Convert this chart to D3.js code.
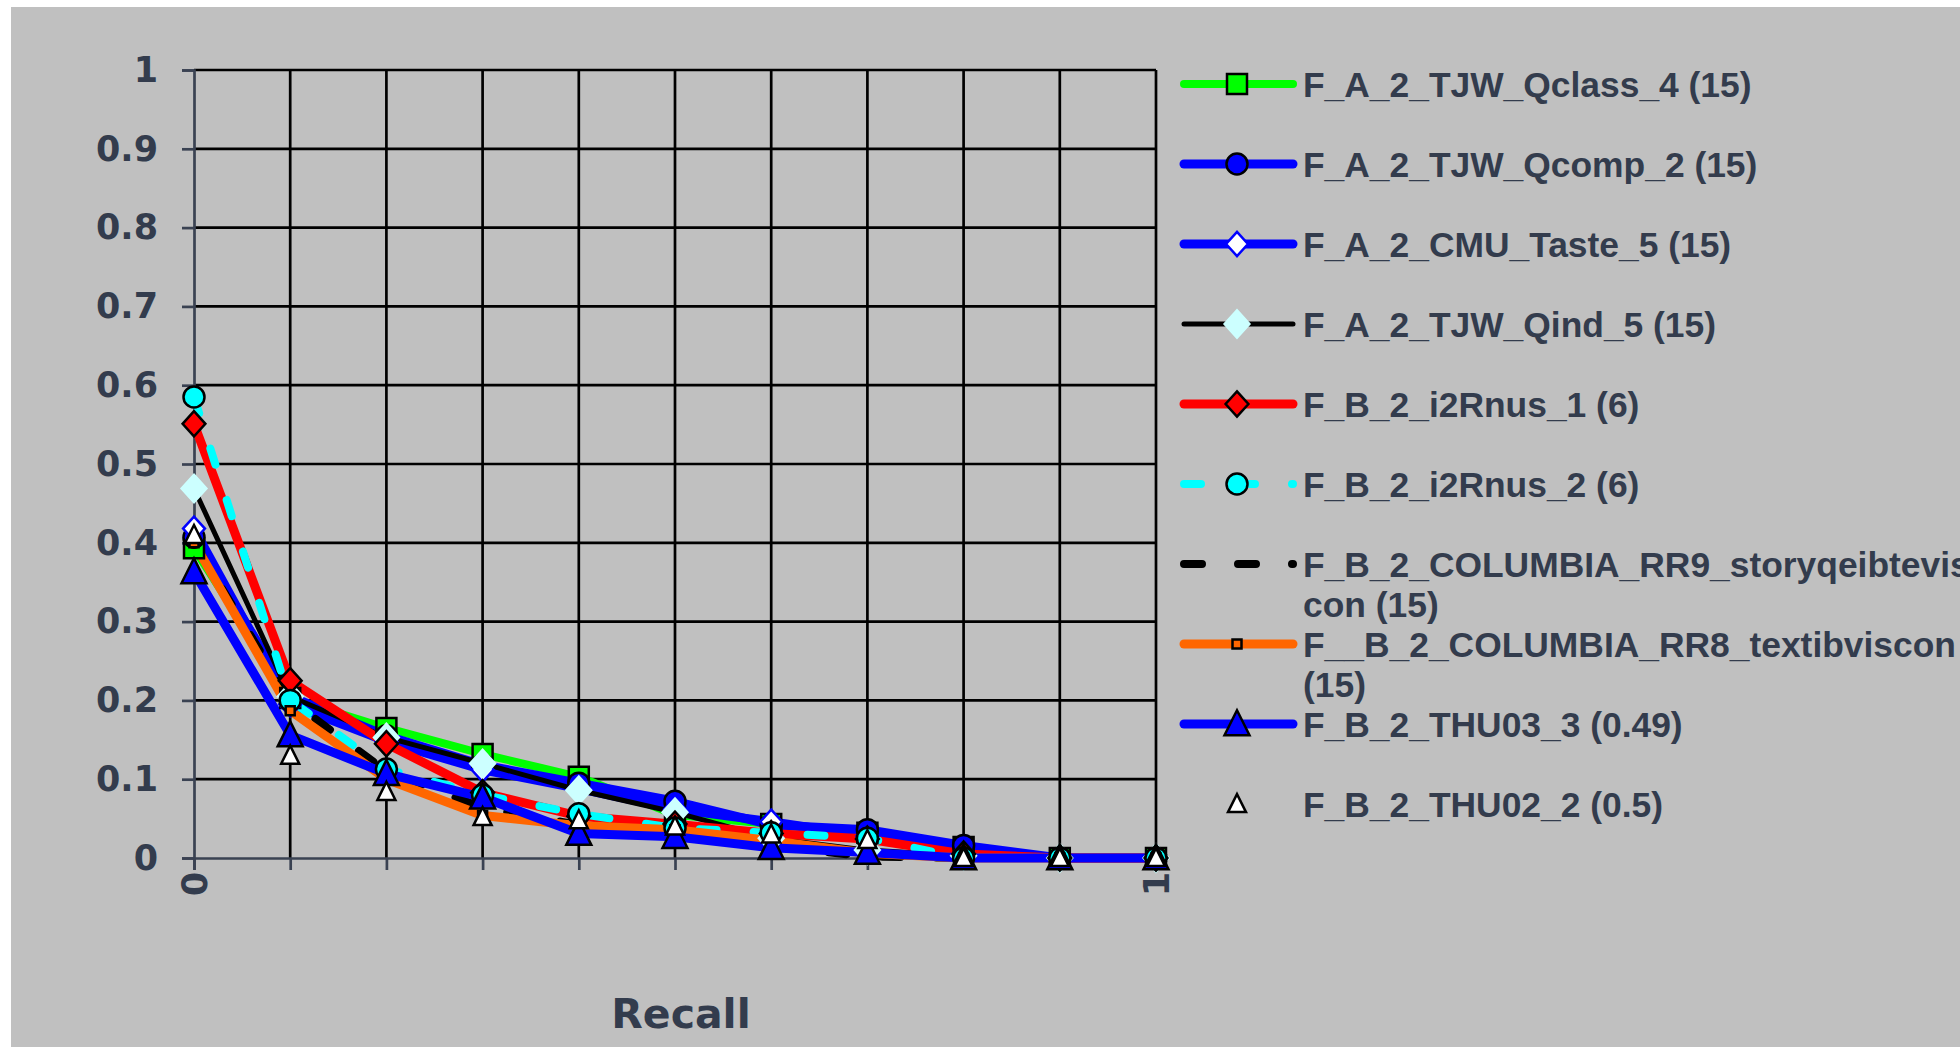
<!DOCTYPE html>
<html>
<head>
<meta charset="utf-8">
<script src="https://cdn.jsdelivr.net/npm/d3@7"></script>
<style>
  html, body { margin: 0; padding: 0; background: #ffffff; overflow: hidden; }
  svg { display: block; }
</style>
</head>
<body>
<svg id="chart" width="1960" height="1047"></svg>
<script>
// ---------------- data ----------------
const recall = [0, 0.1, 0.2, 0.3, 0.4, 0.5, 0.6, 0.7, 0.8, 0.9, 1];
const xTickLabels = ["0", "", "", "", "", "", "", "", "", "", "1"];
const yTicks = [0, 0.1, 0.2, 0.3, 0.4, 0.5, 0.6, 0.7, 0.8, 0.9, 1];
const yTickLabels = ["0", "0.1", "0.2", "0.3", "0.4", "0.5", "0.6", "0.7", "0.8", "0.9", "1"];
const xTitle = "Recall";

const seriesNames = [
  "F_A_2_TJW_Qclass_4 (15)",
  "F_A_2_TJW_Qcomp_2 (15)",
  "F_A_2_CMU_Taste_5 (15)",
  "F_A_2_TJW_Qind_5 (15)",
  "F_B_2_i2Rnus_1 (6)",
  "F_B_2_i2Rnus_2 (6)",
  "F_B_2_COLUMBIA_RR9_storyqeibteviscon (15)",
  "F__B_2_COLUMBIA_RR8_textibviscon (15)",
  "F_B_2_THU03_3 (0.49)",
  "F_B_2_THU02_2 (0.5)"
];
const legendLines = [
  ["F_A_2_TJW_Qclass_4 (15)"],
  ["F_A_2_TJW_Qcomp_2 (15)"],
  ["F_A_2_CMU_Taste_5 (15)"],
  ["F_A_2_TJW_Qind_5 (15)"],
  ["F_B_2_i2Rnus_1 (6)"],
  ["F_B_2_i2Rnus_2 (6)"],
  ["F_B_2_COLUMBIA_RR9_storyqeibtevis", "con (15)"],
  ["F__B_2_COLUMBIA_RR8_textibviscon", "(15)"],
  ["F_B_2_THU03_3 (0.49)"],
  ["F_B_2_THU02_2 (0.5)"]
];

const qclass4   = [0.393, 0.203, 0.165, 0.132, 0.103, 0.055, 0.043, 0.032, 0.014, 0, 0];
const qcomp2    = [0.407, 0.205, 0.155, 0.118, 0.095, 0.072, 0.042, 0.036, 0.016, 0, 0];
const cmuTaste5 = [0.418, 0.195, 0.148, 0.112, 0.088, 0.062, 0.046, 0.028, 0.005, 0, 0];
const qind5     = [0.469, 0.205, 0.153, 0.120, 0.086, 0.058, 0.025, 0.010, 0.003, 0, 0];
const i2rnus1   = [0.551, 0.225, 0.145, 0.083, 0.053, 0.043, 0.031, 0.024, 0.005, 0, 0];
const i2rnus2   = [0.585, 0.200, 0.113, 0.080, 0.056, 0.038, 0.032, 0.025, 0, 0, 0];
const rr9       = [0.400, 0.200, 0.110, 0.064, 0.042, 0.030, 0.015, 0.002, 0, 0, 0];
const rr8       = [0.400, 0.187, 0.100, 0.054, 0.041, 0.036, 0.022, 0.006, 0, 0, 0];
const thu03     = [0.363, 0.156, 0.107, 0.077, 0.031, 0.027, 0.013, 0.007, 0, 0, 0];
const thu02     = [0.410, 0.130, 0.084, 0.052, 0.048, 0.040, 0.030, 0.023, 0, 0, 0];

const seriesValues = [qclass4, qcomp2, cmuTaste5, qind5, i2rnus1, i2rnus2, rr9, rr8, thu03, thu02];

// ---------------- styles ----------------
const styles = [
  { line: "#00ff00", width: 8, dash: null, marker: "square",   fill: "#00ff00", stroke: "#000000", size: 20 },
  { line: "#0000ff", width: 9, dash: null, marker: "circle",   fill: "#0000ff", stroke: "#000000", size: 21 },
  { line: "#0000ff", width: 9, dash: null, marker: "diamond",  fill: "#ffffff", stroke: "#0000ff", size: 23 },
  { line: "#000000", width: 5, dash: null, marker: "diamond",  fill: "#ccffff", stroke: "#ccffff", size: 26 },
  { line: "#ff0000", width: 9, dash: null, marker: "diamond",  fill: "#ff0000", stroke: "#000000", size: 24 },
  { line: "#00ffff", width: 8, dash: "17 37", marker: "circle", fill: "#00ffff", stroke: "#000000", size: 21 },
  { line: "#000000", width: 8, dash: "18 36", marker: null,    fill: null, stroke: null, size: 0 },
  { line: "#ff6600", width: 9, dash: null, marker: "square",   fill: "#ff6600", stroke: "#000000", size: 9 },
  { line: "#0000ff", width: 9, dash: null, marker: "triangle", fill: "#0000ff", stroke: "#000000", size: 25 },
  { line: null,      width: 0, dash: null, marker: "triangle", fill: "#ffffff", stroke: "#000000", size: 18 }
];

const textColor = "#333c4d";
const axisColor = "#3a4252";
const gridWidth = 2.7;

// ---------------- layout ----------------
const svg = d3.select("#chart");
svg.append("rect").attr("x", 11).attr("y", 7).attr("width", 1960 - 11).attr("height", 1047 - 7).attr("fill", "#c0c0c0");

const x = d3.scaleLinear().domain([0, 1]).range([194, 1156]);
const y = d3.scaleLinear().domain([0, 1]).range([858, 70]);

// grid lines
const grid = svg.append("g");
grid.selectAll("line.h").data(yTicks.filter(v => v > 0)).enter().append("line")
  .attr("x1", x(0)).attr("x2", x(1)).attr("y1", d => y(d)).attr("y2", d => y(d))
  .attr("stroke", "#000").attr("stroke-width", gridWidth);
grid.selectAll("line.v").data(recall.filter(v => v > 0)).enter().append("line")
  .attr("y1", y(0)).attr("y2", y(1)).attr("x1", d => x(d)).attr("x2", d => x(d))
  .attr("stroke", "#000").attr("stroke-width", gridWidth);

// y axis
const yAxis = d3.axisLeft(y).tickValues(yTicks).tickSize(12).tickPadding(24)
  .tickFormat((d, i) => yTickLabels[i]);
const gy = svg.append("g").attr("transform", `translate(${x(0)},0)`).call(yAxis);
gy.select(".domain").attr("stroke", axisColor).attr("stroke-width", gridWidth);
gy.selectAll(".tick line").attr("stroke", axisColor).attr("stroke-width", gridWidth);
gy.selectAll(".tick text").attr("fill", textColor)
  .style("font-family", "'DejaVu Sans', Verdana, sans-serif").style("font-weight", "bold").style("font-size", "35px");

// x axis
const xAxis = d3.axisBottom(x).tickValues(recall).tickSize(12).tickFormat(() => "");
const gx = svg.append("g").attr("transform", `translate(0,${y(0)})`).call(xAxis);
gx.select(".domain").attr("stroke", axisColor).attr("stroke-width", gridWidth);
gx.selectAll(".tick line").attr("stroke", axisColor).attr("stroke-width", gridWidth);
gx.selectAll(".tick").append("text")
  .text((d, i) => xTickLabels[i])
  .attr("transform", "translate(0,14) rotate(-90)")
  .attr("text-anchor", "end")
  .attr("dy", "0.35em")
  .attr("fill", textColor)
  .style("font-family", "'DejaVu Sans', Verdana, sans-serif").style("font-weight", "bold").style("font-size", "35px");

svg.append("text").text(xTitle)
  .attr("x", (x(0) + x(1)) / 2 + 6).attr("y", 1028)
  .attr("text-anchor", "middle").attr("fill", textColor)
  .style("font-family", "'DejaVu Sans', Verdana, sans-serif").style("font-weight", "bold").style("font-size", "41px");

// marker path generator (centered at 0,0)
function markerPath(type, s) {
  const h = s / 2;
  if (type === "square") return `M${-h},${-h}H${h}V${h}H${-h}Z`;
  if (type === "circle") return `M${-h},0A${h},${h} 0 1,0 ${h},0A${h},${h} 0 1,0 ${-h},0Z`;
  if (type === "diamond") { const w = h * 0.95; return `M0,${-h * 1.05}L${w},0L0,${h * 1.05}L${-w},0Z`; }
  if (type === "triangle") return `M0,${-h * 1.1}L${h},${h * 0.9}L${-h},${h * 0.9}Z`;
  return "";
}

// series lines
const lineGen = d3.line().x((d, i) => x(recall[i])).y(d => y(d));
const linesG = svg.append("g");
seriesValues.forEach((vals, si) => {
  const st = styles[si];
  if (!st.line) return;
  linesG.append("path").datum(vals)
    .attr("d", lineGen)
    .attr("fill", "none")
    .attr("stroke", st.line)
    .attr("stroke-width", st.width)
    .attr("stroke-linejoin", "round")
    .attr("stroke-linecap", "round")
    .attr("stroke-dasharray", st.dash);
});

// markers
const markG = svg.append("g");
seriesValues.forEach((vals, si) => {
  const st = styles[si];
  if (!st.marker) return;
  markG.append("g").selectAll("path").data(vals).enter().append("path")
    .attr("d", markerPath(st.marker, st.size))
    .attr("transform", (d, i) => `translate(${x(recall[i])},${y(d)})`)
    .attr("fill", st.fill)
    .attr("stroke", st.stroke)
    .attr("stroke-width", 2.5);
});

// legend
const legend = svg.append("g");
const legX1 = 1184, legX2 = 1293, legMid = 1237, legTextX = 1303;
legendLines.forEach((lines, i) => {
  const st = styles[i];
  const ly = 84 + i * 80;
  const g = legend.append("g");
  if (st.line) {
    g.append("line").attr("x1", legX1).attr("x2", legX2).attr("y1", ly).attr("y2", ly)
      .attr("stroke", st.line).attr("stroke-width", st.width)
      .attr("stroke-linecap", "round").attr("stroke-dasharray", st.dash);
  }
  if (st.marker) {
    g.append("path").attr("d", markerPath(st.marker, st.size))
      .attr("transform", `translate(${legMid},${ly})`)
      .attr("fill", st.fill).attr("stroke", st.stroke).attr("stroke-width", 2.5);
  }
  lines.forEach((t, li) => {
    g.append("text").text(t)
      .attr("x", legTextX).attr("y", ly + 12.5 + li * 40)
      .attr("fill", textColor)
      .style("font-family", "'Liberation Sans', Arial, sans-serif")
      .style("font-weight", "bold").style("font-size", "35.4px");
  });
});
</script>
</body>
</html>
